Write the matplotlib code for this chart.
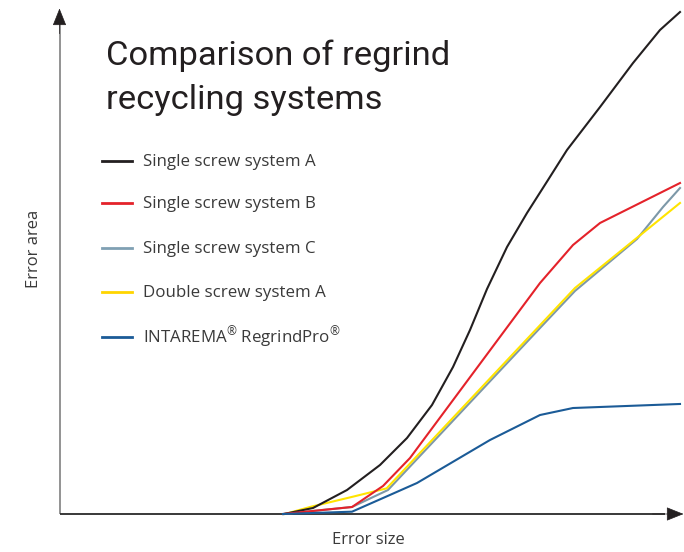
import matplotlib
matplotlib.use("Agg")
import matplotlib.pyplot as plt

plt.rcParams["mathtext.fontset"] = "custom"
plt.rcParams["mathtext.rm"] = "Open Sans"
plt.rcParams["mathtext.it"] = "Open Sans"
plt.rcParams["mathtext.bf"] = "Open Sans"

# ---------------- data (arbitrary units 0-100) ----------------
labels = ["Single screw system A", "Single screw system B", "Single screw system C",
          "Double screw system A", "INTAREMA$^{\\mathrm{\u00ae}}$ RegrindPro$^{\\mathrm{\u00ae}}$"]
colors = ["#231f20", "#e4222a", "#7d98a8", "#ffe400", "#1b5b97"]
legend_colors = ["#231f20", "#e4222a", "#80a0b3", "#ffd500", "#1b5b97"]

black_x = [36.13, 40.81, 46.29, 51.61, 55.97, 60.00, 63.39, 66.13, 68.87, 72.10, 75.32,
           78.71, 81.77, 87.10, 92.42, 96.77, 100.0]
black_y = [0.0, 1.19, 4.76, 9.72, 15.08, 21.63, 29.17, 36.51, 44.64, 52.98, 59.72,
           66.27, 72.22, 80.75, 89.48, 96.03, 99.60]

red_x = [35.97, 47.10, 52.10, 56.45, 77.42, 82.74, 87.10, 100.0]
red_y = [0.0, 1.39, 5.56, 11.11, 45.83, 53.37, 57.74, 65.67]

gray_x = [35.97, 47.10, 52.90, 77.42, 83.06, 93.06, 97.26, 100.0]
gray_y = [0.0, 1.39, 4.76, 36.90, 44.25, 54.56, 60.91, 64.68]

yellow_x = [36.29, 40.32, 47.26, 52.69, 83.06, 100.0]
yellow_y = [0.0, 1.39, 3.44, 5.09, 44.84, 61.71]

blue_x = [35.97, 47.10, 52.10, 57.58, 69.35, 77.42, 82.74, 100.0]
blue_y = [0.0, 0.46, 3.17, 6.15, 14.68, 19.64, 21.03, 21.83]

title_lines = ["Comparison of regrind", "recycling systems"]
xlabel = "Error size"
ylabel = "Error area"

# ---------------- layout ----------------
W, H = 684, 552
fig = plt.figure(figsize=(W / 100, H / 100), dpi=100)
ax = fig.add_axes([0, 0, 1, 1])
ax.axis("off")

# pixel mapping: x=0 -> px 60, x=100 -> px 680 ; y=0 -> py 514, y=100 -> py 10
x0_px, x100_px = 60.0, 680.0
y0_px, y100_px = 514.0, 10.0
sx = (x100_px - x0_px) / 100.0
sy = (y0_px - y100_px) / 100.0
ax.set_xlim(-x0_px / sx, (W - x0_px) / sx)
ax.set_ylim(-(H - y0_px) / sy, y0_px / sy)

def fx(px):
    return px / W

def fy(py):
    return 1 - py / H

# axes lines and arrows
ax_x = (59.5 - x0_px) / sx
x_tip = (683.5 - x0_px) / sx
y_tip = (y0_px - 8.5) / sy
ax.plot([ax_x, ax_x], [0, y_tip - 3], color="#8a8a8a", lw=1.3, solid_capstyle="butt", zorder=1)
ax.plot([ax_x, x_tip - 3], [0, 0], color="#2a2a2a", lw=1.3, solid_capstyle="butt", zorder=1)
arrow_style = "-|>,head_length=0.55,head_width=0.22"
ax.annotate("", xy=(ax_x, y_tip), xytext=(ax_x, y_tip - 5),
            arrowprops=dict(arrowstyle=arrow_style, mutation_scale=20, color="#231f20",
                            lw=0.5, shrinkA=0, shrinkB=0))
ax.annotate("", xy=(x_tip, 0), xytext=(x_tip - 5, 0),
            arrowprops=dict(arrowstyle=arrow_style, mutation_scale=20, color="#231f20",
                            lw=0.5, shrinkA=0, shrinkB=0))

# data lines
lw = 1.5
ax.plot(gray_x, gray_y, color=colors[2], lw=lw, zorder=3, solid_joinstyle="miter")
ax.plot(yellow_x, yellow_y, color=colors[3], lw=lw, zorder=4, solid_joinstyle="miter")
ax.plot(black_x, black_y, color=colors[0], lw=lw, zorder=5, solid_joinstyle="round")
ax.plot(red_x, red_y, color=colors[1], lw=lw, zorder=6, solid_joinstyle="miter")
ax.plot(blue_x, blue_y, color=colors[4], lw=lw, zorder=7, solid_joinstyle="miter")

# title
title_font = dict(family=["Roboto", "DejaVu Sans"], fontsize=24.8, color="#231f20")
fig.text(fx(106), fy(65.5), title_lines[0], ha="left", va="baseline", **title_font)
fig.text(fx(106), fy(109), title_lines[1], ha="left", va="baseline", **title_font)

# legend
leg_font = dict(family=["Open Sans", "DejaVu Sans"], fontsize=12.2, color="#3a3a3a")
row_y = [161, 203, 248, 292, 337]
for lab, col, ry in zip(labels, legend_colors, row_y):
    fig.add_artist(plt.Line2D([fx(102), fx(131.5)], [fy(ry), fy(ry)], color=col, lw=2.0))
    fig.text(fx(143), fy(ry + 5), lab, ha="left", va="baseline", **leg_font)

# axis labels
lab_font = dict(family=["Open Sans", "DejaVu Sans"], fontsize=12, color="#3a3a3a")
fig.text(fx(368), fy(540), xlabel, ha="center", va="center", **lab_font)
fig.text(fx(34), fy(249), ylabel, ha="center", va="center", rotation=90, **lab_font)

fig.savefig("out.png", dpi=100, facecolor="white")
